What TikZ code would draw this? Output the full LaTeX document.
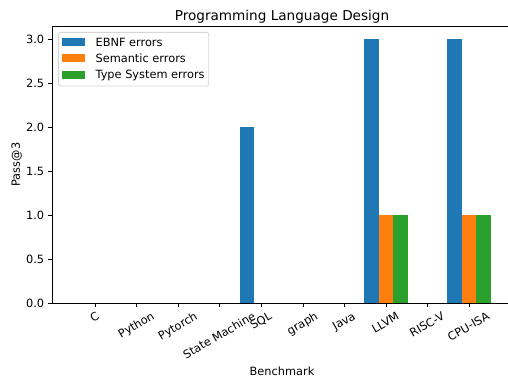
\documentclass[tikz,border=0pt]{standalone}
\usepackage{fontspec}
\setmainfont{DejaVu Sans}
\definecolor{tabblue}{HTML}{1F77B4}
\definecolor{taborange}{HTML}{FF7F0E}
\definecolor{tabgreen}{HTML}{2CA02C}
\definecolor{legedge}{HTML}{D6D6D6}
\newcommand\lblfont{\fontsize{11.35}{13.6}\selectfont}
\newcommand\ttlfont{\fontsize{13.6}{16}\selectfont}
% bar: colour, category index, offset (-1,0,1), value
\newcommand\mybar[4]{\fill[#1] ({95.2+41.55*#2+14.54*(#3)-7.27},303) rectangle ({95.2+41.55*#2+14.54*(#3)+7.27},{303-87.94*#4});}
% x tick label: name, index, text width (px), text
\newcommand\xlab[4]{%
  \draw[tickmark] ({95.2+41.55*#2},303) -- ({95.2+41.55*#2},307);
  \node[xl] (#1) at ({95.2+41.55*#2}, {311.5+0.25*#3+0.433*11.0}) {#4};}
\begin{document}
\begin{tikzpicture}[x=1pt,y=-1pt,
  spine/.style={line width=0.9pt, black},
  tickmark/.style={line width=0.9pt, black},
  lbl/.style={font=\lblfont, inner sep=0pt, text=black},
  xl/.style={lbl, rotate=30, anchor=center, text height=0.76em, text depth=0.21em},
  legbox/.style={draw=legedge, line width=0.9pt, rounded corners=2.3pt, fill=white},
]
\useasboundingbox (0,0) rectangle (508,381);
\clip (0,0) rectangle (508,381);
\fill[white] (0,0) rectangle (508,381);

% bars
\mybar{tabblue}{4}{-1}{2}
\mybar{tabblue}{7}{-1}{3}
\mybar{taborange}{7}{0}{1}
\mybar{tabgreen}{7}{1}{1}
\mybar{tabblue}{9}{-1}{3}
\mybar{taborange}{9}{0}{1}
\mybar{tabgreen}{9}{1}{1}

% axes frame
\draw[spine] (52.3,26) rectangle (511.6,303);

% y ticks
\foreach \v/\t [count=\i] in {0/0.0,0.5/0.5,1/1.0,1.5/1.5,2/2.0,2.5/2.5,3/3.0}{
  \draw[tickmark] (52.3,{303-87.94*\v}) -- (48.3,{303-87.94*\v});
  \node[lbl, anchor=east] (yt\i) at (44.3,{303-87.94*\v}) {\t};
}

% x ticks and labels
\xlab{xC}{0}{7.9}{C}
\xlab{xPy}{1}{39.3}{Python}
\xlab{xPt}{2}{43.1}{Pytorch}
\xlab{xSM}{3}{81.2}{State Machine}
\xlab{xSQL}{4}{22.5}{SQL}
\xlab{xgr}{5}{33.2}{graph}
\xlab{xJa}{6}{24.0}{Java}
\xlab{xLL}{7}{30.2}{LLVM}
\xlab{xRV}{8}{38.2}{RISC-V}
\xlab{xCPU}{9}{45.5}{CPU-ISA}

% axis labels and title
\node[font=\ttlfont, inner sep=0pt, anchor=base] (title) at (282,20) {Programming Language Design};
\node[lbl, anchor=base] (xlabel) at (282,375) {Benchmark};
\node[lbl, rotate=90, anchor=base] (ylabel) at (19.8,164.5) {Pass@3};

% legend
\draw[legbox] (58.3,32.3) rectangle (208.7,86);
\fill[tabblue] (62,38.05) rectangle (84.7,45.95);
\fill[taborange] (62,54.4) rectangle (84.7,62.3);
\fill[tabgreen] (62,70.75) rectangle (84.7,78.65);
\node[lbl, anchor=base west] (leg1) at (95.4,46.1) {EBNF errors};
\node[lbl, anchor=base west] (leg2) at (95.4,62.45) {Semantic errors};
\node[lbl, anchor=base west] (leg3) at (95.4,78.8) {Type System errors};
\end{tikzpicture}
\end{document}
